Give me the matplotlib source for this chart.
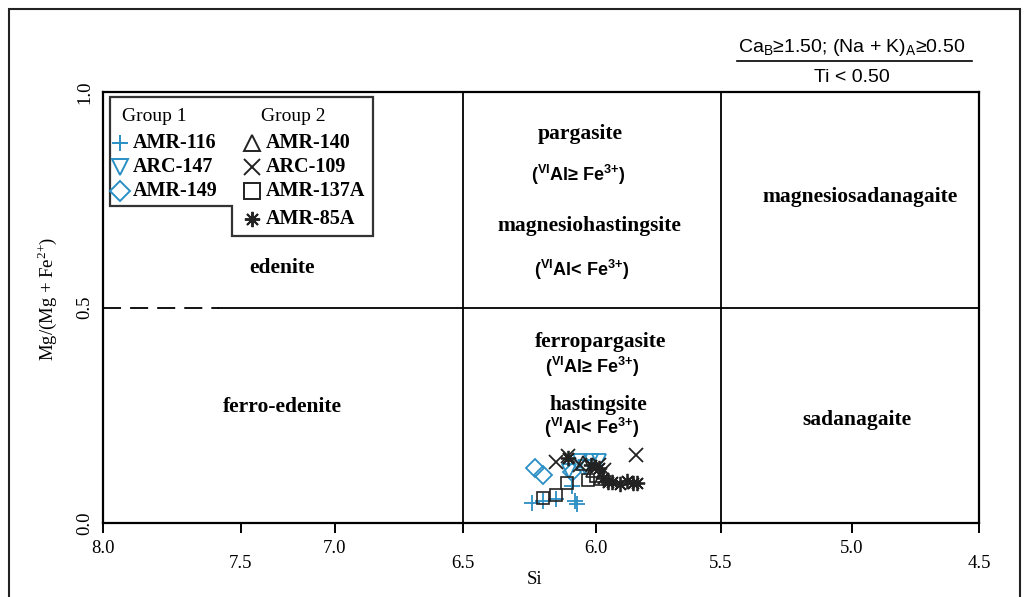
import numpy as np
import matplotlib
matplotlib.use("Agg")
import matplotlib.pyplot as plt
from matplotlib.patches import Polygon, Rectangle
from matplotlib.lines import Line2D
from matplotlib.ticker import FixedLocator, FixedFormatter, NullLocator

plt.rcParams['font.family'] = ['Liberation Serif', 'DejaVu Serif']
plt.rcParams['mathtext.fontset'] = 'custom'
plt.rcParams['mathtext.rm'] = 'Liberation Serif'
plt.rcParams['mathtext.sf'] = 'Liberation Sans'
plt.rcParams['mathtext.bf'] = 'Liberation Sans:bold'

BLUE = '#2a8fc4'
DARK = '#222222'

# sample compositions (Si apfu, Mg/(Mg+Fe2+))
amr116_si = [6.24, 6.20, 6.15, 6.08, 6.07, 6.09]
amr116_mg = [0.046, 0.050, 0.055, 0.050, 0.045, 0.085]
arc147_si = [6.06, 6.02, 5.99, 6.04, 6.10]
arc147_mg = [0.145, 0.143, 0.145, 0.130, 0.120]
amr149_si = [6.23, 6.20, 6.09]
amr149_mg = [0.127, 0.111, 0.118]
amr140_si = [6.05, 6.01, 5.98]
amr140_mg = [0.139, 0.122, 0.104]
arc109_si = [6.15, 6.105, 6.06, 5.99, 5.84, 5.97]
arc109_mg = [0.141, 0.155, 0.134, 0.134, 0.157, 0.122]
amr137a_si = [6.20, 6.15, 6.11, 6.03, 6.00]
amr137a_mg = [0.058, 0.065, 0.092, 0.099, 0.110]
amr85a_si = [6.105, 5.99, 5.972, 5.952, 5.936, 5.904, 5.876, 5.852, 5.836, 6.02]
amr85a_mg = [0.150, 0.127, 0.104, 0.095, 0.095, 0.090, 0.097, 0.092, 0.092, 0.134]

# the printed x axis is not quite linear: tick value -> drawn position
tick_vals = [3.5, 4.5, 5.0, 5.5, 6.0, 6.5, 7.0, 7.5, 8.0, 9.0]
tick_pos = [-1229, -979, -852, -721, -596, -463, -335, -241, -103, 147]

major_ticks = [8.0, 7.0, 6.0, 5.0]
minor_ticks = [7.5, 6.5, 5.5, 4.5]


def fwd(x):
    return np.interp(x, tick_vals, tick_pos)


def inv(p):
    return np.interp(p, tick_pos, tick_vals)


fig = plt.figure(figsize=(10.24, 5.97), dpi=100)
ax = fig.add_axes([103/1024, 1-523/597, 876/1024, 431/597])
ax.set_xscale('function', functions=(fwd, inv))
ax.set_xlim(8.0, 4.5)
ax.set_ylim(0, 1)

for s in ax.spines.values():
    s.set_linewidth(1.6)

# field boundaries
ax.axvline(6.5, color='black', lw=1.3)
ax.axvline(5.5, color='black', lw=1.3)
ax.plot([8.0, 7.58], [0.5, 0.5], color='black', lw=1.3, ls=(0, (10, 5)))
ax.plot([7.58, 4.5], [0.5, 0.5], color='black', lw=1.3)

# ticks
ax.xaxis.set_major_locator(FixedLocator(major_ticks))
ax.xaxis.set_major_formatter(FixedFormatter(['%.1f' % v for v in major_ticks]))
ax.xaxis.set_minor_locator(FixedLocator(minor_ticks))
ax.xaxis.set_minor_formatter(FixedFormatter(['%.1f' % v for v in minor_ticks]))
ax.tick_params(axis='x', which='both', direction='out', length=7, width=1.4, labelsize=13.5)
ax.tick_params(axis='x', which='major', pad=5)
ax.tick_params(axis='x', which='minor', pad=16)
ax.set_yticks([0.0, 0.5, 1.0])
ax.set_yticklabels(['0.0', '0.5', '1.0'], rotation=90, va='center')
ax.tick_params(axis='y', length=0, pad=7, labelsize=13.5)
ax.yaxis.set_minor_locator(NullLocator())

ax.set_xlabel('Si', fontsize=13.5)
ax.xaxis.set_label_coords(0.493, -0.112)
ax.set_ylabel(r'Mg/(Mg + Fe$^{2{+}}$)', fontsize=13.5)
ax.yaxis.set_label_coords(-0.05, 0.52)

# data
ms = 10
ax.plot(amr116_si, amr116_mg, ls='none', marker='+', ms=ms+2, mew=1.3, color=BLUE)
ax.plot(arc147_si, arc147_mg, ls='none', marker='v', ms=ms, mew=1.3, mfc='none', mec=BLUE)
ax.plot(amr149_si, amr149_mg, ls='none', marker='D', ms=ms-1, mew=1.3, mfc='none', mec=BLUE)
ax.plot(amr140_si, amr140_mg, ls='none', marker='^', ms=ms, mew=1.2, mfc='none', mec=DARK)
ax.plot(arc109_si, arc109_mg, ls='none', marker='x', ms=ms, mew=1.3, color=DARK)
ax.plot(amr137a_si, amr137a_mg, ls='none', marker='s', ms=ms-1, mew=1.2, mfc='none', mec=DARK)
ax.plot(amr85a_si, amr85a_mg, ls='none', marker=(8, 2, 0), ms=ms+1, mew=1.3, color=DARK)

# field names
name_kw = dict(ha='center', va='center', fontsize=15.5, fontweight='bold')
cond_kw = dict(ha='center', va='center', fontsize=13, fontweight='bold', family='Liberation Sans')
ge = r'($^{\mathbf{VI}}$Al≥ Fe$^{\mathbf{3{+}}}$)'
lt = r'($^{\mathbf{VI}}$Al< Fe$^{\mathbf{3{+}}}$)'
ax.text(7.282, 0.592, 'edenite', **name_kw)
ax.text(7.282, 0.269, 'ferro-edenite', **name_kw)
ax.text(6.060, 0.903, 'pargasite', **name_kw)
ax.text(6.068, 0.808, ge, **cond_kw)
ax.text(6.023, 0.689, 'magnesiohastingsite', **name_kw)
ax.text(6.056, 0.588, lt, **cond_kw)
ax.text(5.980, 0.420, 'ferropargasite', **name_kw)
ax.text(6.015, 0.362, ge, **cond_kw)
ax.text(5.992, 0.274, 'hastingsite', **name_kw)
ax.text(6.015, 0.220, lt, **cond_kw)
ax.text(4.969, 0.756, 'magnesiosadanagaite', **name_kw)
ax.text(4.98, 0.239, 'sadanagaite', **name_kw)

# legend box drawn by hand (notched outline)
box = Polygon([(0.008, 0.988), (0.308, 0.988), (0.308, 0.666), (0.147, 0.666),
               (0.147, 0.735), (0.008, 0.735)], closed=True, fill=True,
              facecolor='white', edgecolor='#333333', lw=1.6, transform=ax.transAxes)
ax.add_patch(box)
ax.text(0.059, 0.944, 'Group 1', transform=ax.transAxes, ha='center', va='center', fontsize=14)
ax.text(0.217, 0.944, 'Group 2', transform=ax.transAxes, ha='center', va='center', fontsize=14)

legend_rows = [0.882, 0.826, 0.770, 0.705]
col1 = [('+', BLUE, 'AMR-116', True), ('v', BLUE, 'ARC-147', False), ('D', BLUE, 'AMR-149', False)]
col2 = [('^', DARK, 'AMR-140', False), ('x', DARK, 'ARC-109', True),
        ('s', DARK, 'AMR-137A', False), ((8, 2, 0), DARK, 'AMR-85A', True)]
for (mk, c, lab, line_mk), yy in zip(col1, legend_rows):
    ax.add_line(Line2D([0.019], [yy], marker=mk, ls='none', ms=11 if mk != 'D' else 10, mew=1.4,
                       mfc=c if line_mk else 'none', mec=c, transform=ax.transAxes, clip_on=False))
    ax.text(0.034, yy, lab, transform=ax.transAxes, ha='left', va='center', fontsize=14.5, fontweight='bold')
for (mk, c, lab, line_mk), yy in zip(col2, legend_rows):
    ax.add_line(Line2D([0.170], [yy], marker=mk, ls='none', ms=11, mew=1.4,
                       mfc=c if line_mk else 'none', mec=c, transform=ax.transAxes, clip_on=False))
    ax.text(0.186, yy, lab, transform=ax.transAxes, ha='left', va='center', fontsize=14.5, fontweight='bold')

# classification criteria in the top right
fig.text(0.832, 0.921, r'Ca$_{\mathsf{B}}$≥1.50; (Na + K)$_{\mathsf{A}}$≥0.50', ha='center', va='center',
         fontsize=14, family='Liberation Sans')
fig.add_artist(Line2D([0.72, 0.949], [0.898, 0.898], color='black', lw=1.2, transform=fig.transFigure))
fig.text(0.832, 0.871, 'Ti < 0.50', ha='center', va='center', fontsize=14, family='Liberation Sans')

# outer frame
fig.add_artist(Rectangle((9/1024, -0.05), 1011/1024, 1.05-9/597, fill=False, lw=1.5,
                         edgecolor=DARK, transform=fig.transFigure))

fig.savefig('out.png', dpi=100)
